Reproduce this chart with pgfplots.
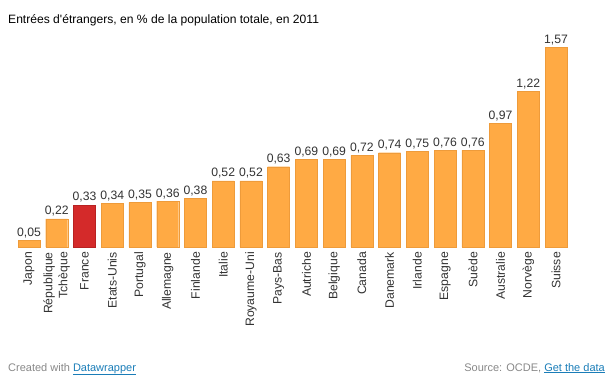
\documentclass[border=0pt]{standalone}
\usepackage{pgfplots}
\pgfplotsset{compat=1.18}
\usepackage{fontspec}
\setmainfont{Liberation Sans}
\definecolor{barorange}{HTML}{FFAA44}
\definecolor{barorangeedge}{HTML}{EE9B3A}
\definecolor{barred}{HTML}{D42A2A}
\definecolor{barrededge}{HTML}{B82222}
\definecolor{txt}{HTML}{333333}
\definecolor{foot}{HTML}{888888}
\definecolor{link}{HTML}{1A7DB8}
\begin{document}
\begin{tikzpicture}[x=1pt,y=1pt]
\path[use as bounding box] (0,0) rectangle (613,381);
\node[anchor=base west, inner sep=0pt, text=black, font=\fontsize{12.1}{14}\selectfont] at (8,357) {Entrées d\textquotesingle étrangers, en \% de la population totale, en 2011};
\begin{axis}[
  at={(15.13pt,134pt)}, anchor=south west,
  scale only axis, width=554.8pt, height=200pt,
  xmin=-0.5, xmax=19.5, ymin=0, ymax=1.57,
  axis line style={draw=none},
  ytick=\empty,
  xtick={0,...,19},
  xticklabels={Japon,République\\Tchèque,France,Etats-Unis,Portugal,Allemagne,Finlande,Italie,Royaume-Uni,Pays-Bas,Autriche,Belgique,Canada,Danemark,Irlande,Espagne,Suède,Australie,Norvège,Suisse},
  major tick length=0pt,
  xtick style={draw=none},
  xticklabel style={rotate=90, anchor=east, align=right, inner sep=0pt, text=txt, font=\fontsize{12.2}{15}\selectfont},
  xticklabel shift=5pt,
  clip=false,
  nodes near coords,
  every node near coord/.append style={anchor=base, inner sep=0pt, yshift=4pt, text=txt, font=\fontsize{12.2}{14}\selectfont},
  /pgf/number format/.cd, use comma, fixed, fixed zerofill, precision=2, assume math mode=true,
]
\addplot[ybar, bar width=22pt, bar shift=0pt, fill=barorange, draw=barorangeedge] coordinates {
(0,0.05) (1,0.22) (3,0.34) (4,0.35) (5,0.36) (6,0.38) (7,0.52) (8,0.52) (9,0.63) (10,0.69) (11,0.69) (12,0.72) (13,0.74) (14,0.75) (15,0.76) (16,0.76) (17,0.97) (18,1.22) (19,1.57)
};
\addplot[ybar, bar width=22pt, bar shift=0pt, fill=barred, draw=barrededge] coordinates {(2,0.33)};
\end{axis}
\node[anchor=base west, inner sep=0pt, font=\fontsize{11}{13}\selectfont] at (8,10) {\textcolor{foot}{Created with} \textcolor{link}{\underline{Datawrapper}}};
\node[anchor=base east, inner sep=0pt, font=\fontsize{11}{13}\selectfont] at (605,10) {\textcolor{foot}{Source: OCDE,} \textcolor{link}{\underline{Get the data}}};
\end{tikzpicture}
\end{document}
